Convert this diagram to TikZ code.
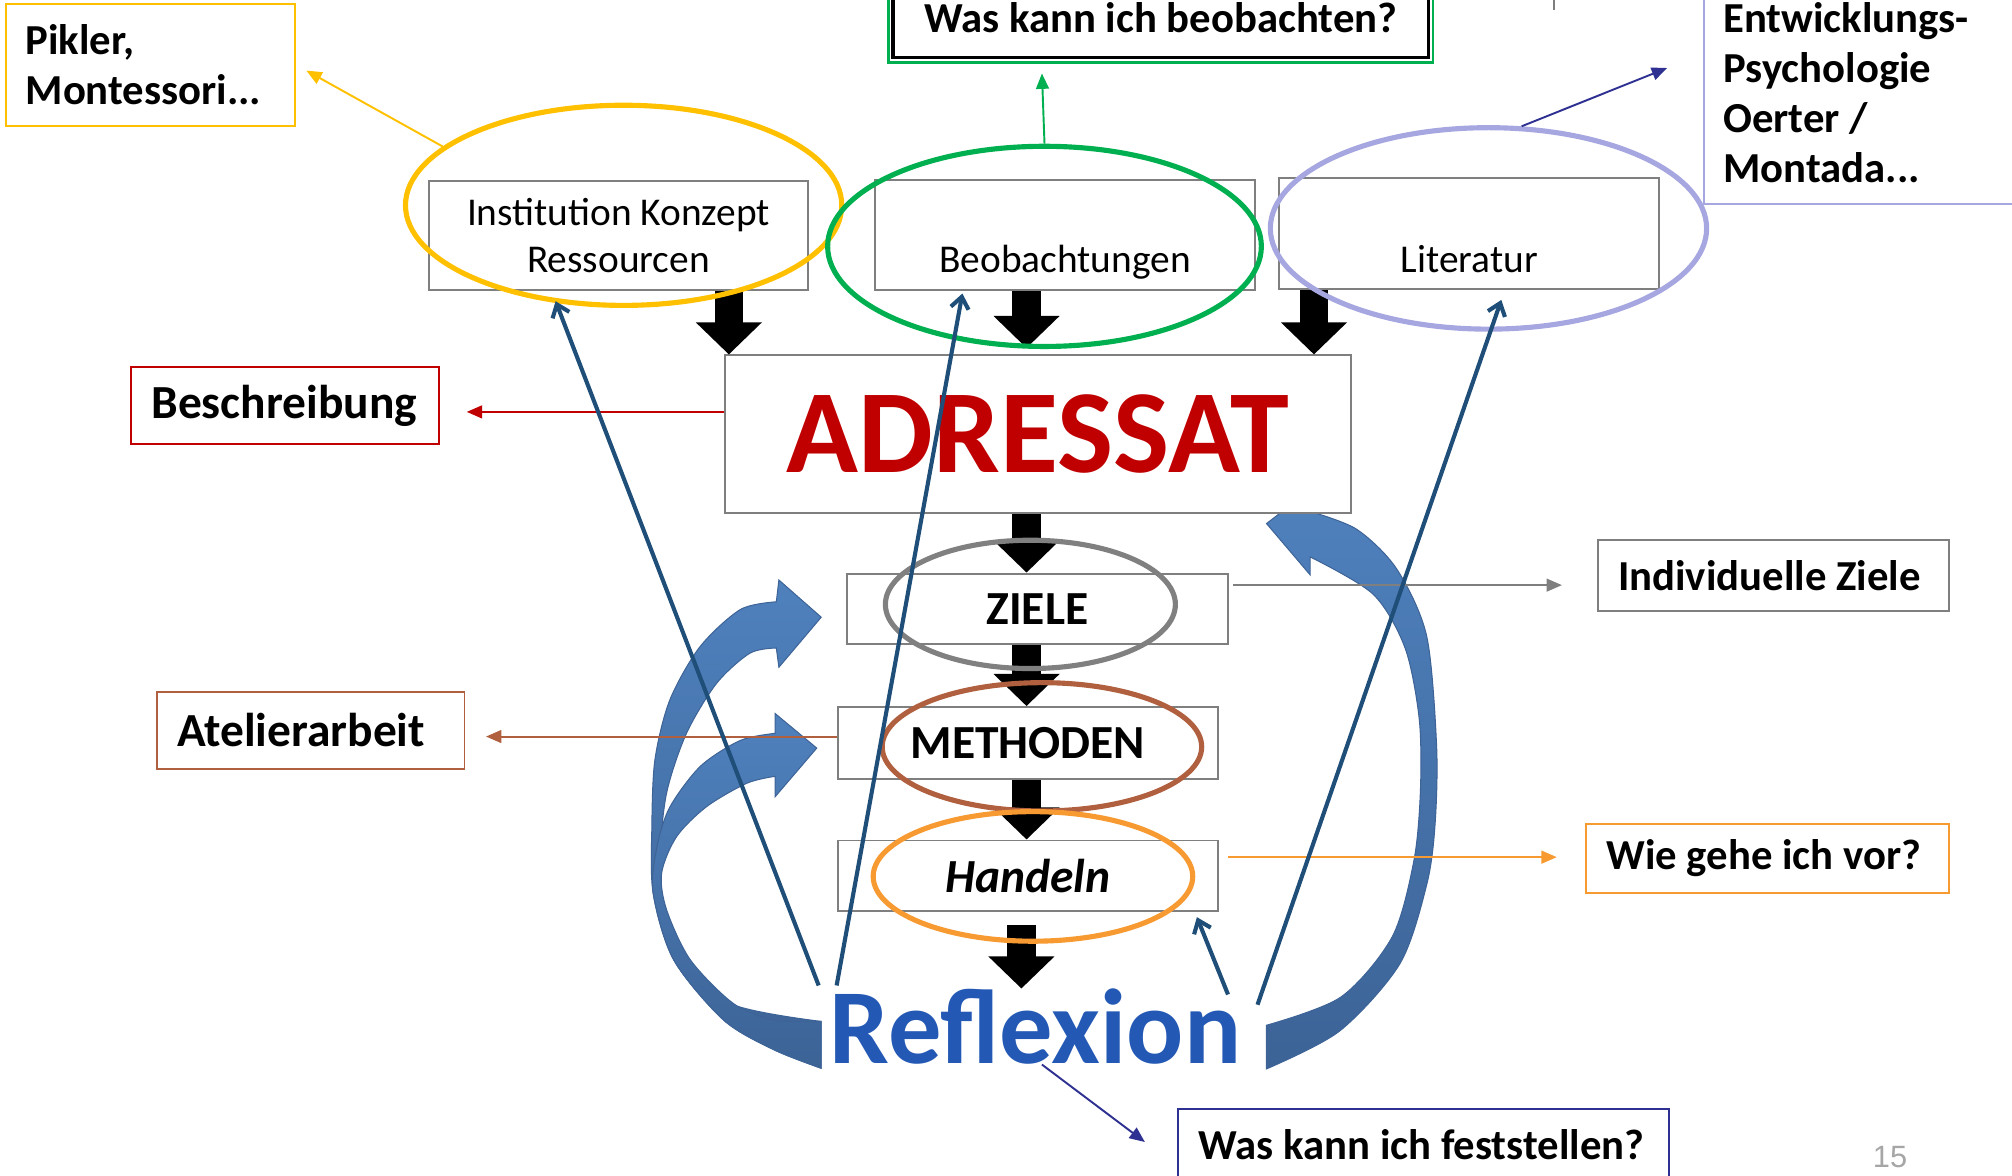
\documentclass[tikz,border=0pt]{standalone}
\usepackage{fontspec}
\setmainfont{Carlito}
\newfontfamily\arialf{Liberation Sans}
\usetikzlibrary{arrows.meta,shapes.geometric,calc}
\definecolor{cyellow}{HTML}{FFC000}
\definecolor{cgreen}{HTML}{00B050}
\definecolor{cpurple}{HTML}{A6A6E0}
\definecolor{cnavy}{HTML}{2E3192}
\definecolor{cgrey}{HTML}{7F7F7F}
\definecolor{cellgrey}{HTML}{808080}
\definecolor{cred}{HTML}{C00000}
\definecolor{cbrown}{HTML}{B0603F}
\definecolor{corange}{HTML}{F79A32}
\definecolor{cthin}{HTML}{1F4E79}
\definecolor{cblueA}{HTML}{4F81BD}
\definecolor{cblueB}{HTML}{3C6396}
\definecolor{cblueL}{HTML}{3E6497}
\definecolor{creflex}{HTML}{2358B4}
\newcommand{\lblfont}{\fontsize{33.3}{39}\selectfont\bfseries}
\newcommand{\bigfont}{\fontsize{37}{42}\selectfont\bfseries}
\newcommand{\regfont}{\fontsize{30.7}{36}\selectfont}
\begin{document}
\begin{tikzpicture}[x=1pt,y=-1pt,
  box/.style={draw=cgrey, line width=1.5pt, fill=white, inner sep=0pt},
  ell/.style={ellipse, line width=4pt, inner sep=0pt},
  tri/.style={-{Triangle[length=12pt,width=10pt]}, line width=1.5pt},
  fat/.style={line width=22pt, -{Triangle[length=25pt,width=50pt]}},
  thinblue/.style={cthin, line width=3.2pt, -{Straight Barb[length=9pt,width=14pt]}},
  curvy/.style={draw=cblueL, line width=0.8pt, top color=cblueA, bottom color=cblueB}]
\useasboundingbox (0,0) rectangle (1568,916);
\clip (0,0) rectangle (1568,916);

% curved arrows
\path[curvy] (640,832.5) -- plot[smooth] coordinates {(640,832.5) (603,818) (564,795) (525,748) (509,696) (508,644) (510.4,592) (522,545.5) (545.5,504) (577,475) (605,469)}
  -- (607,452) -- (640,481) -- (607,520) -- (605,505)
  -- plot[smooth] coordinates {(605,505) (584.5,509) (558.5,532.5) (535,571.5) (519.5,618) (514,670) (516,705) (530,743) (569,782) (640,796)} -- cycle;
\path[curvy] (640,832.5) -- plot[smooth] coordinates {(640,832.5) (603,818) (564,795) (525,748) (509,696) (512,660) (522,629) (546,597) (577,577) (604,571.5)}
  -- (604,556) -- (636.5,583) -- (604,621) -- (604,605)
  -- plot[smooth] coordinates {(604,605) (582,610.4) (550.7,628.6) (527.3,652) (515.6,680.6) (519.5,709) (538,748) (571.5,782) (603,795) (640,796)} -- cycle;
\path[curvy] (987,833) -- plot[smooth] coordinates {(987,833) (1044,803.5) (1091,751) (1111.8,689.7) (1118.3,643.5) (1119.6,582) (1111.8,495.6) (1088.4,443.3) (1057.3,412.5) (1021,398.6)}
  -- (1021,382) -- (987,408) -- (1021,448) -- (1021,434)
  -- plot[smooth] coordinates {(1021,434) (1070,463) (1095,505) (1106,560) (1107,615) (1102,670) (1085,730) (1045,777) (987,799)} -- cycle;

% top fragment
\draw[cgrey, line width=1.5pt] (1211,0) -- (1211,8);

% boxes
\node[box, draw=cyellow, minimum width=225pt, minimum height=95pt, align=left, font=\lblfont] (pikler) at (117.5,50.5) {\makebox[195pt][l]{Pikler,}\\Montessori...};
\node[box, draw=cpurple, minimum width=292pt, minimum height=173pt, align=left, font=\lblfont] (entw) at (1474,72.5) {\makebox[262pt][l]{Entwicklungs-}\\Psychologie\\Oerter /\\Montada...};
\node[box, draw=black, line width=2.5pt, minimum width=417pt, minimum height=62pt, font=\lblfont] (beobq) at (904.5,14) {Was kann ich beobachten?};
\draw[cgreen, line width=2pt] ([shift={(-2.5pt,2.5pt)}]beobq.north west) rectangle ([shift={(2.5pt,-2.5pt)}]beobq.south east);

\node[box, minimum width=296pt, minimum height=85pt, align=center, font=\regfont] (inst) at (482,183.5) {Institution Konzept\\Ressourcen};
\node[box, minimum width=296pt, minimum height=86pt, align=center, font=\regfont] (beob) at (830,183) {\strut\\[8pt]\strut Beobachtungen};
\node[box, minimum width=296pt, minimum height=86pt, align=center, font=\regfont] (lit) at (1145,182) {\strut\\[10pt]\strut Literatur};

\node[box, minimum width=488pt, minimum height=123pt, text=cred, font=\fontsize{92.5}{100}\selectfont\bfseries] (adr) at (809,338.5) {ADRESSAT};
\node[box, draw=cred, minimum width=240pt, minimum height=60pt, font=\bigfont] (besch) at (222,316) {\makebox[208pt][l]{Beschreibung}};

\node[box, minimum width=297pt, minimum height=55pt, font=\bigfont] (ziele) at (808.5,474.5) {ZIELE};
\node[box, minimum width=274pt, minimum height=55pt, font=\lblfont] (ind) at (1382,448.5) {\makebox[242pt][l]{Individuelle Ziele}};
\node[box, minimum width=296pt, minimum height=56pt, font=\bigfont] (meth) at (801,579) {METHODEN};
\node[box, draw=cbrown, minimum width=240pt, minimum height=60pt, font=\bigfont] (atel) at (242,569) {\makebox[208pt][l]{Atelierarbeit}};
\node[box, minimum width=296pt, minimum height=55pt, font=\bigfont\itshape] (hand) at (801,682.5) {Handeln};
\node[box, draw=corange, minimum width=283pt, minimum height=54pt, font=\lblfont] (wie) at (1377.5,669) {\makebox[251pt][l]{Wie gehe ich vor?}};
\node[box, draw=cnavy, minimum width=383pt, minimum height=56pt, font=\lblfont] (fest) at (1109.5,892) {\makebox[351pt][l]{Was kann ich feststellen?}};
\node[inner sep=0pt, text=creflex, font=\fontsize{83}{90}\selectfont\bfseries] (refl) at (807,800) {Reflexion};
\node[inner sep=0pt, text=gray!70, font=\arialf\fontsize{24}{28}\selectfont] (pnum) at (1473,902) {15};

% fat arrows
\draw[fat] ([xshift=86pt]inst.south) -- ($(inst.south |- adr.north)+(86pt,0)$);
\draw[fat] ([xshift=-30pt]beob.south) -- ($(beob.south |- adr.north)+(-30pt,5pt)$);
\draw[fat] ([xshift=-121pt]lit.south) -- ($(lit.south |- adr.north)+(-121pt,0)$);
\draw[fat] ([xshift=-9pt]adr.south) -- ($(adr.south |- ziele.north)+(-9pt,0)$);
\draw[fat] ([xshift=-8.5pt]ziele.south) -- ($(ziele.south |- meth.north)+(-8.5pt,0)$);
\draw[fat] ([xshift=-1pt]meth.south) -- ($(meth.south |- hand.north)+(-1pt,0)$);
\draw[fat] ($(hand.south)+(-5pt,-10pt)$) -- ($(hand.south |- refl.north)+(-5pt,0)$);

% side connectors
\draw[tri, cred, shorten >=21pt] ([yshift=17.5pt]adr.west) -- ([yshift=17.5pt]adr.west -| besch.east);
\draw[tri, cgrey, shorten <=3pt, shorten >=27pt] ([yshift=18.5pt]ziele.east) -- ([yshift=18.5pt]ziele.east -| ind.west);
\draw[tri, cbrown, shorten >=16pt] ([yshift=5pt]meth.west) -- ([yshift=5pt]meth.west -| atel.east);
\draw[tri, corange, shorten <=7pt, shorten >=22pt] ([yshift=14.5pt]hand.east) -- ([yshift=14.5pt]hand.east -| wie.west);

% ellipses
\node[ell, draw=cyellow, minimum width=340pt, minimum height=156pt] (yell) at (486,160) {};
\node[ell, draw=cgreen, minimum width=338pt, minimum height=156pt] (gell) at (814,192) {};
\node[ell, draw=cpurple, minimum width=340pt, minimum height=157pt] (pell) at (1160,178) {};
\node[ell, draw=cellgrey, minimum width=226pt, minimum height=100pt] (grell) at (803,471) {};
\node[ell, draw=cbrown, minimum width=249pt, minimum height=100pt] (brell) at (812,582) {};
\node[ell, draw=corange, minimum width=249pt, minimum height=101pt] (orell) at (805,683) {};

\draw[tri, cyellow] (yell.162) -- ([shift={(8pt,-4.5pt)}]pikler.east);
\draw[tri, cgreen] (gell.north) -- ([shift={(-92.5pt,-11pt)}]beobq.south);
\draw[tri, cnavy] (pell.72) -- ([shift={(-28pt,19.5pt)}]entw.west);
\draw[tri, cnavy] ([xshift=5pt]refl.south) -- ([shift={(-25pt,2pt)}]fest.west);

% thin blue arrows
\draw[thinblue] ([shift={(-169pt,32pt)}]refl.center) -- ([shift={(-49pt,-8pt)}]inst.south);
\draw[thinblue] ([shift={(-155pt,32pt)}]refl.center) -- ([shift={(-80pt,-2pt)}]beob.south);
\draw[thinblue] ([shift={(173pt,17pt)}]refl.center) -- ([shift={(25pt,-8pt)}]lit.south);
\draw[thinblue] ([shift={(150pt,25pt)}]refl.center) -- ([shift={(-17pt,-4pt)}]hand.south east);
\end{tikzpicture}
\end{document}
